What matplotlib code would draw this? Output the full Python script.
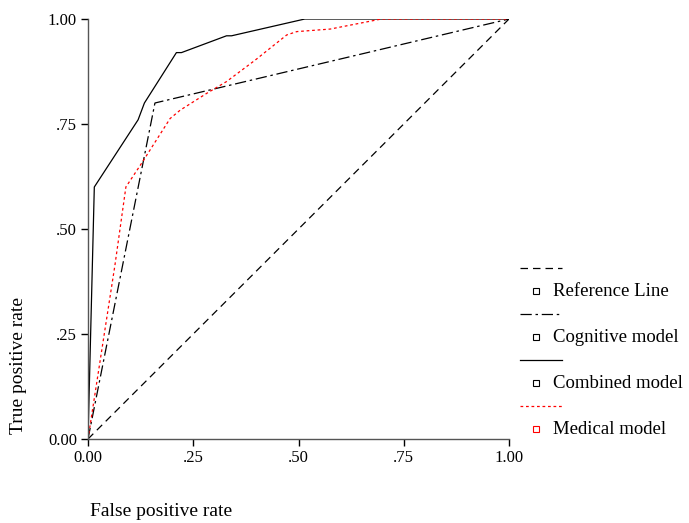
import matplotlib
matplotlib.use("Agg")
import matplotlib.pyplot as plt
from matplotlib.lines import Line2D

plt.rcParams['font.family'] = ['Liberation Serif', 'DejaVu Serif']

# ROC curve points
ref_fpr = [0.0, 1.0]
ref_tpr = [0.0, 1.0]

cog_fpr = [0.0, 0.159, 1.0]
cog_tpr = [0.0, 0.80, 1.0]

comb_fpr = [0.0, 0.015, 0.119, 0.134, 0.21, 0.222, 0.329, 0.341, 0.515, 1.0]
comb_tpr = [0.0, 0.60, 0.76, 0.80, 0.92, 0.92, 0.96, 0.96, 1.0, 1.0]

med_fpr = [0.0, 0.064, 0.090, 0.127, 0.195, 0.219, 0.282, 0.329, 0.397, 0.472, 0.496, 0.575, 0.697, 1.0]
med_tpr = [0.0, 0.414, 0.60, 0.656, 0.763, 0.783, 0.823, 0.851, 0.902, 0.962, 0.970, 0.976, 1.0, 1.0]

ticks = [0.0, 0.25, 0.5, 0.75, 1.0]
tick_labels = ["0.00", ".25", ".50", ".75", "1.00"]

legend_labels = ["Reference Line", "Cognitive model", "Combined model", "Medical model"]

fig = plt.figure(figsize=(6.89, 5.23), dpi=100)
ax = fig.add_axes([88/689, 84/523, 421/689, 420/523])

ref_style = dict(color="black", lw=0.9, dashes=(6, 4))
cog_style = dict(color="black", lw=0.9, dashes=(9, 3, 2, 3))
comb_style = dict(color="black", lw=0.9, linestyle="-")
med_style = dict(color="red", lw=0.9, dashes=(2.2, 2.2))

ax.plot(ref_fpr, ref_tpr, **ref_style)
ax.plot(cog_fpr, cog_tpr, **cog_style)
ax.plot(comb_fpr, comb_tpr, **comb_style)
ax.plot(med_fpr, med_tpr, **med_style)

ax.set_xlim(0, 1)
ax.set_ylim(0, 1)
ax.set_xticks(ticks)
ax.set_xticklabels(tick_labels)
ax.set_yticks(ticks)
ax.set_yticklabels(tick_labels)
ax.tick_params(direction="out", length=5, width=1, labelsize=12, colors="black", pad=3)
for side in ["top", "right"]:
    ax.spines[side].set_visible(False)
for side in ["left", "bottom"]:
    ax.spines[side].set_color("#555555")
    ax.spines[side].set_linewidth(1.0)

fig.text(90/689, 1 - 512/523, "False positive rate", fontsize=14, ha="left", va="center")
fig.text(19/689, 1 - 365/523, "True positive rate", fontsize=14, rotation=90, ha="center", va="center")

# SPSS-style legend: line sample row, then marker + label row
styles = [ref_style, cog_style, comb_style, med_style]
sq_colors = ["black", "black", "black", "red"]
for i, (lab, st, sc) in enumerate(zip(legend_labels, styles, sq_colors)):
    y_line = 1 - (268 + 46 * i) / 523
    y_lab = 1 - (291 + 46 * i) / 523
    fig.add_artist(Line2D([520/689, 562/689], [y_line, y_line], transform=fig.transFigure, **st))
    fig.add_artist(Line2D([536/689], [y_lab], transform=fig.transFigure, marker="s",
                          markersize=4, markerfacecolor="white", markeredgecolor=sc,
                          markeredgewidth=0.8, linestyle="none"))
    fig.text(553/689, y_lab, lab, fontsize=13.5, ha="left", va="center")

fig.savefig("out.png", dpi=100)
